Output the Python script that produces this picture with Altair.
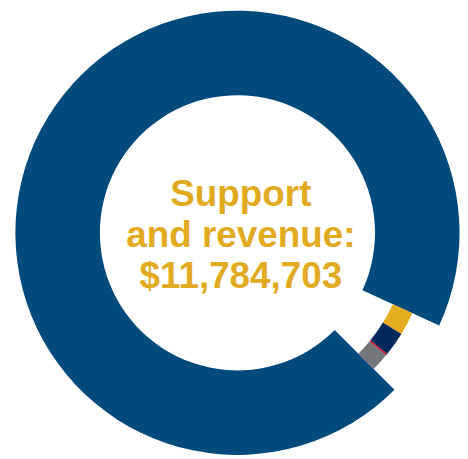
import math
import altair as alt
import pandas as pd

categories = ["Main support", "Revenue A", "Revenue B", "Revenue C", "Revenue D"]
values = [11120000, 228000, 239000, 17000, 180703]
colors = ["#014a7c", "#e5ac1d", "#00295b", "#c8102e", "#757679"]
center_lines = ["Support", "and revenue:", "$11,784,703"]

df = pd.DataFrame({"category": categories, "value": values, "order": list(range(len(values)))})
total = sum(values)
start = 3 * math.pi / 4

base = alt.Chart(df).transform_window(
    cum="sum(value)", sort=[alt.SortField("order")]
).transform_calculate(
    start="datum.cum - datum.value"
)

theta_scale = alt.Scale(domain=[0, total], range=[start, start + 2 * math.pi])
color_scale = alt.Scale(domain=categories, range=colors)

cx, cy = 233.5, 224.8

big = base.transform_filter(alt.datum.order == 0).mark_arc(
    radius=226, radius2=140, stroke=None
).encode(
    x=alt.value(cx), y=alt.value(cy),
    theta=alt.Theta("start:Q", scale=theta_scale),
    theta2="cum:Q",
    color=alt.Color("category:N", scale=color_scale, legend=None),
)

small = base.transform_filter(alt.datum.order > 0).mark_arc(
    radius=196, radius2=174, stroke=None
).encode(
    x=alt.value(cx), y=alt.value(cy),
    theta=alt.Theta("start:Q", scale=theta_scale),
    theta2="cum:Q",
    color=alt.Color("category:N", scale=color_scale, legend=None),
)

text = alt.Chart(pd.DataFrame({"t": [0]})).mark_text(
    font="Liberation Sans", fontWeight="bold", fontSize=37.5, color="#e2aa1f",
    align="center", baseline="alphabetic", lineHeight=41.5
).encode(
    x=alt.value(cx + 3.5), y=alt.value(197.5), text=alt.value(center_lines)
)

chart = alt.layer(big, small, text).properties(
    width=460, height=451, padding=0, autosize=alt.AutoSizeParams(type="none")
).configure_view(stroke=None)

chart.save("out.html", embed_options={"renderer": "svg", "actions": False})
